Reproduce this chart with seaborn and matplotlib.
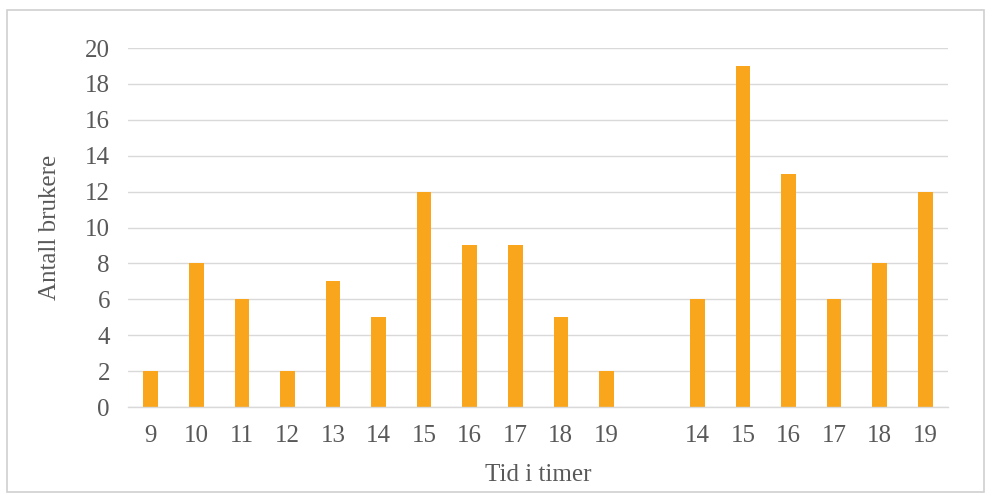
import numpy as np
import pandas as pd
import matplotlib
matplotlib.use("Agg")
import matplotlib.pyplot as plt
import seaborn as sns

# Hour labels for the two periods, with an empty slot separating them
hour_labels = ["9", "10", "11", "12", "13", "14", "15", "16", "17", "18", "19",
               "",
               "14", "15", "16", "17", "18", "19"]
users = [2, 8, 6, 2, 7, 5, 12, 9, 9, 5, 2,
         np.nan,
         6, 19, 13, 6, 8, 12]
y_ticks = [0, 2, 4, 6, 8, 10, 12, 14, 16, 18, 20]

sns.set_theme(style="white")
plt.rcParams["font.family"] = ["Liberation Serif", "DejaVu Serif"]

text_color = "#595959"
grid_color = "#d9d9d9"
bar_color = "#F9A61C"

df = pd.DataFrame({"slot": range(len(users)), "users": users})

fig = plt.figure(figsize=(9.86, 4.94), dpi=100)
ax = fig.add_axes([0.1298, 0.1761, 0.8317, 0.7267])

sns.barplot(data=df, x="slot", y="users", order=list(range(len(users))),
            color=bar_color, saturation=1, width=0.32, linewidth=0, ax=ax)

ax.set_ylim(0, 20)
ax.set_yticks(y_ticks)
ax.set_xticks(range(len(hour_labels)))
ax.set_xticklabels(hour_labels)
ax.set_xlim(-0.5, len(users) - 0.5)

ax.yaxis.grid(True, color=grid_color, linewidth=1)
ax.set_axisbelow(True)
for side in ["top", "right", "left"]:
    ax.spines[side].set_visible(False)
ax.spines["bottom"].set_color(grid_color)
ax.spines["bottom"].set_linewidth(1)

ax.tick_params(axis="both", length=0, labelsize=18, colors=text_color)
ax.tick_params(axis="x", pad=13)
ax.tick_params(axis="y", pad=13)

ax.set_xlabel("Tid i timer", fontsize=18, color=text_color, labelpad=12)
ax.set_ylabel("Antall brukere", fontsize=18, color=text_color, labelpad=17)

# Light frame around the whole chart area
fig.patches.append(plt.Rectangle((7 / 986, 0.004), 1 - 9 / 986, 1 - 10 / 494 - 0.004,
                                 transform=fig.transFigure, fill=False,
                                 edgecolor="#d0d0d0", linewidth=1.2))

fig.savefig("out.png", dpi=100)
